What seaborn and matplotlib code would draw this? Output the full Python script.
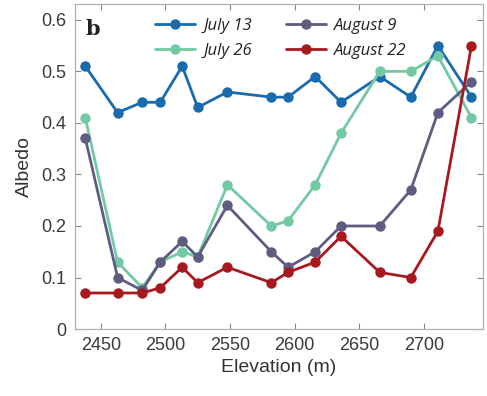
import matplotlib
matplotlib.use("Agg")
from matplotlib import pyplot as plt
import numpy as np
import pandas as pd
import seaborn as sns

sns.set_style("ticks")
plt.rcParams['font.family'] = ['Liberation Sans', 'DejaVu Sans']

elevation = [2438, 2463, 2482, 2496, 2513, 2525, 2548, 2582, 2595, 2616, 2636, 2666, 2690, 2711, 2737]
july_13 = [0.51, 0.42, 0.44, 0.44, 0.51, 0.43, 0.46, 0.45, 0.45, 0.49, 0.44, 0.49, 0.45, 0.55, 0.45]
july_26 = [0.41, 0.13, 0.08, 0.13, 0.15, 0.14, 0.28, 0.20, 0.21, 0.28, 0.38, 0.50, 0.50, 0.53, 0.41]
august_9 = [0.37, 0.10, 0.075, 0.13, 0.17, 0.14, 0.24, 0.15, 0.12, 0.15, 0.20, 0.20, 0.27, 0.42, 0.48]
august_22 = [0.07, 0.07, 0.07, 0.08, 0.12, 0.09, 0.12, 0.09, 0.11, 0.13, 0.18, 0.11, 0.10, 0.19, 0.55]

series = {'July 13': july_13, 'July 26': july_26, 'August 9': august_9, 'August 22': august_22}
colors = {'July 13': '#1a6aae', 'July 26': '#72c9a3', 'August 9': '#5e5c80', 'August 22': '#a5191f'}

df = pd.concat([pd.DataFrame({'Elevation': elevation, 'Albedo': v, 'Date': k})
                for k, v in series.items()], ignore_index=True)

fig = plt.figure(figsize=(4.87, 3.96), dpi=100)
ax = fig.add_axes([0.154, 0.169, 0.838, 0.820])

sns.lineplot(data=df, x='Elevation', y='Albedo', hue='Date', palette=colors,
             marker='o', markersize=7.5, markeredgewidth=0, linewidth=2,
             ax=ax, sort=False)

ax.set_xlim(2430, 2746)
ax.set_ylim(0, 0.63)
ax.set_xticks([2450, 2500, 2550, 2600, 2650, 2700])
ax.set_yticks([0, 0.1, 0.2, 0.3, 0.4, 0.5, 0.6])
ax.set_yticklabels(['0', '0.1', '0.2', '0.3', '0.4', '0.5', '0.6'])
ax.tick_params(direction='in', length=4, width=0.8, color='#888888',
               labelsize=13, labelcolor='#3a3a3a', top=True, right=True, pad=6)
for s in ax.spines.values():
    s.set_color('#b0b0b0')
    s.set_linewidth(0.9)
ax.set_xlabel('Elevation (m)', fontsize=14, color='#333333', labelpad=3)
ax.set_ylabel('Albedo', fontsize=14, color='#333333', labelpad=6)

ax.text(0.025, 0.955, 'b', transform=ax.transAxes, fontsize=15, fontweight='bold',
        family='DejaVu Serif', va='top', ha='left', color='#222222')

leg = ax.legend(ncol=2, loc='upper left', bbox_to_anchor=(0.16, 1.005), frameon=False,
                fontsize=12, handlelength=2.4, columnspacing=2.0, labelspacing=0.55,
                handletextpad=0.5)
for t in leg.get_texts():
    t.set_fontstyle('italic')
    t.set_family(['Open Sans', 'DejaVu Sans'])
    t.set_color('#222222')

fig.savefig('out.png', dpi=100)
